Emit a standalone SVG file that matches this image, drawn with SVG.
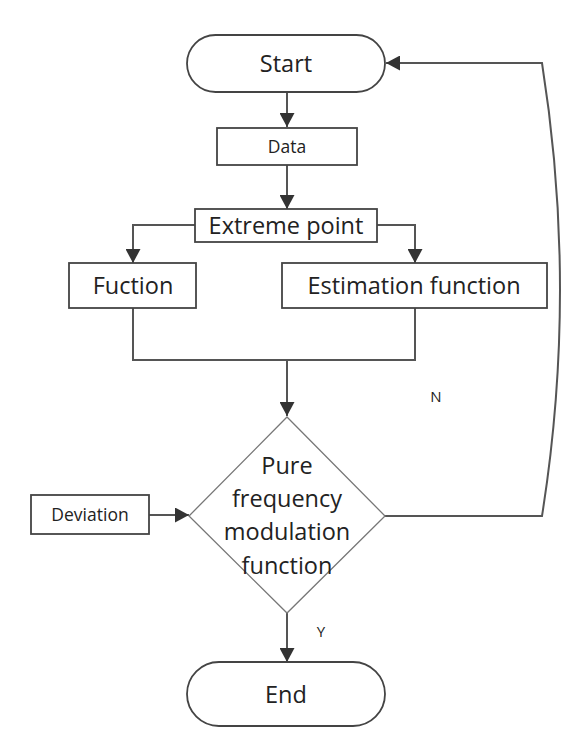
<svg xmlns="http://www.w3.org/2000/svg" width="585" height="743" viewBox="0 0 585 743">
<style>
.box{fill:#fff;stroke:#444;stroke-width:1.8}
.dia{fill:#fff;stroke:#777;stroke-width:1.3}
.ln{fill:none;stroke:#555;stroke-width:2}
.t{font-family:"Open Sans","DejaVu Sans",sans-serif;fill:#222;text-anchor:middle}
.big{font-size:23.5px}
.sm{font-size:17.5px}
.lab{font-size:15px}
</style>
<defs>
<marker id="ah" markerUnits="userSpaceOnUse" markerWidth="14" markerHeight="15" viewBox="0 0 10 10" refX="10" refY="5" orient="auto" preserveAspectRatio="none">
<path d="M0,0 L10,5 L0,10 z" fill="#333"/>
</marker>
</defs>
<rect width="585" height="743" fill="#fff"/>
<g id="connectors">
<path class="ln" d="M287,92 V127" marker-end="url(#ah)"/>
<path class="ln" d="M287,165 V209" marker-end="url(#ah)"/>
<path class="ln" d="M195,225 H133 V263" marker-end="url(#ah)"/>
<path class="ln" d="M377,225 H415 V263" marker-end="url(#ah)"/>
<path class="ln" d="M133,308 V360 H415 V308"/>
<path class="ln" d="M287,360 V416" stroke-width="2.5" marker-end="url(#ah)"/>
<path class="ln" d="M149,515 H189" marker-end="url(#ah)"/>
<path class="ln" d="M385,516 H542 Q578,290 542,63 H386" marker-end="url(#ah)"/>
<path class="ln" d="M287,613 V662" marker-end="url(#ah)"/>
<text class="t lab" x="436" y="402">N</text>
<text class="t lab" x="321" y="637">Y</text>
</g>
<g id="start">
<rect class="box" x="187" y="35" width="198" height="57" rx="28.5"/>
<text class="t big" x="286" y="72">Start</text>
</g>
<g id="data">
<rect class="box" x="217" y="128" width="140" height="37"/>
<text class="t sm" x="287" y="153">Data</text>
</g>
<g id="extreme">
<rect class="box" x="195" y="209" width="182" height="33"/>
<text class="t big" x="286" y="234">Extreme point</text>
</g>
<g id="fuction">
<rect class="box" x="69" y="263" width="127" height="45"/>
<text class="t big" x="133" y="294">Fuction</text>
</g>
<g id="estimation">
<rect class="box" x="282" y="263" width="265" height="45"/>
<text class="t big" x="414" y="294">Estimation function</text>
</g>
<g id="decision">
<polygon class="dia" points="287,417 385,516 287,613 189,516"/>
<text class="t big" x="287" y="474">Pure</text>
<text class="t big" x="287" y="507">frequency</text>
<text class="t big" x="287" y="540">modulation</text>
<text class="t big" x="287" y="574">function</text>
</g>
<g id="deviation">
<rect class="box" x="31" y="495" width="118" height="39"/>
<text class="t sm" x="90" y="521">Deviation</text>
</g>
<g id="end">
<rect class="box" x="187" y="662" width="198" height="64" rx="32"/>
<text class="t big" x="286" y="703">End</text>
</g>
</svg>
